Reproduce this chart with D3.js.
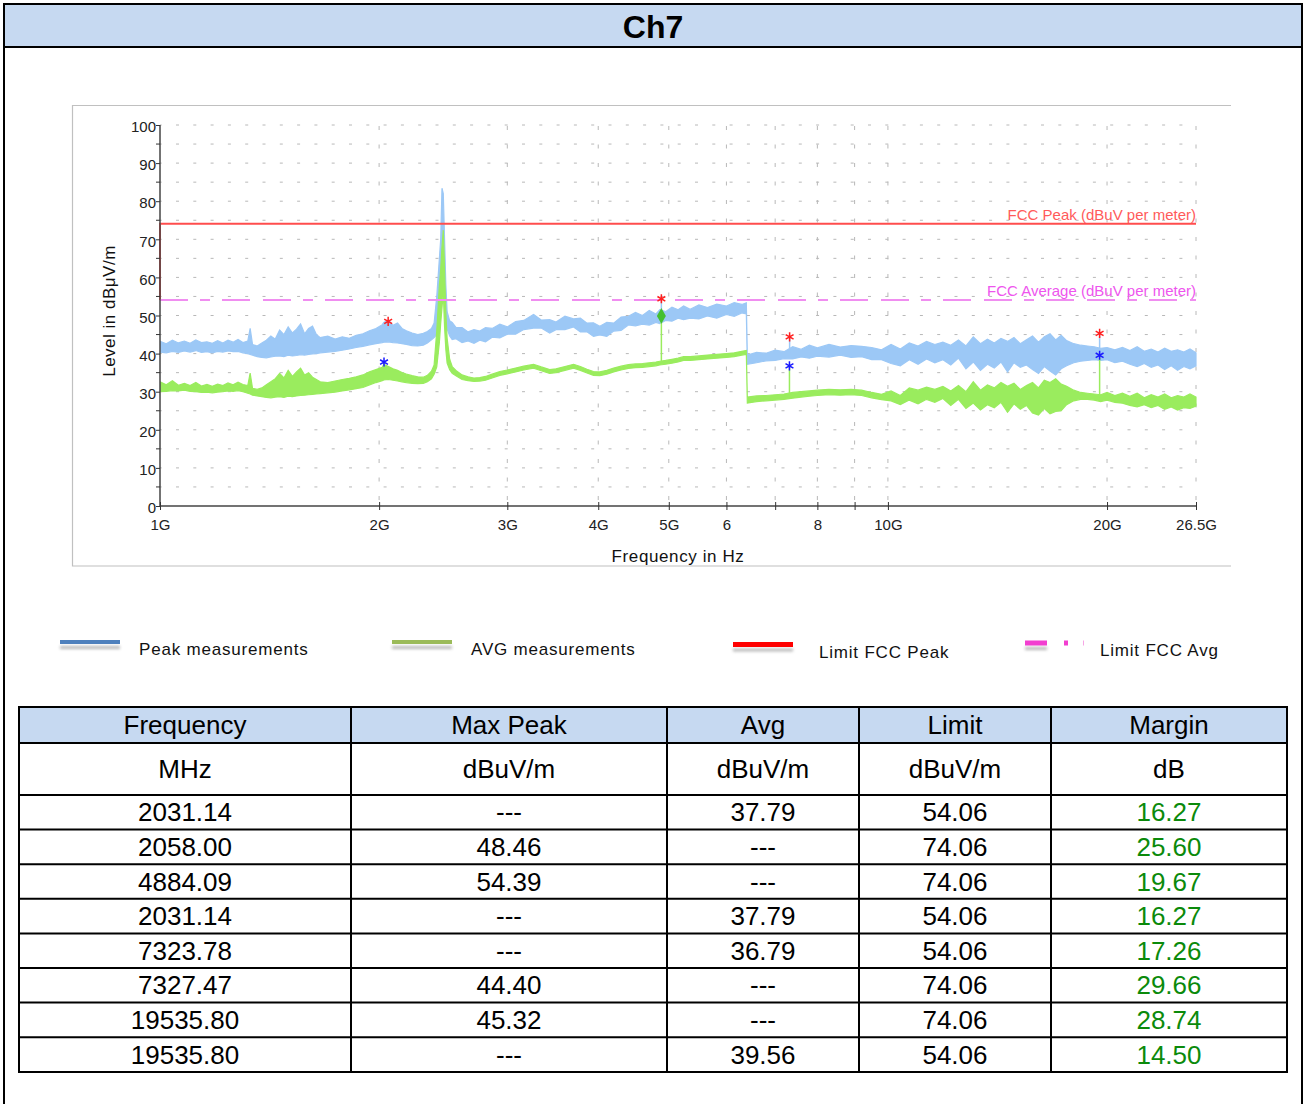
<!DOCTYPE html>
<html>
<head>
<meta charset="utf-8">
<script src="https://cdn.jsdelivr.net/npm/d3@7"></script>
<style>
  body { margin: 0; background: #fff; }
  svg { display: block; }
  text { font-family: "Liberation Sans", Arial, sans-serif; }
</style>
</head>
<body>
<svg id="chart" width="1304" height="1104"></svg>
<script>
// ---- Scan data (frequency in GHz, levels in dBµV/m) ----
const freqGHz = [
  1.00,1.02,1.04,1.06,1.08,1.10,1.12,1.14,1.16,1.18,1.20,1.22,1.24,1.26,1.28,1.30,1.32,1.33,1.34,1.36,
  1.38,1.40,1.42,1.44,1.46,1.48,1.50,1.52,1.54,1.56,1.58,1.60,1.62,1.64,1.66,1.70,1.74,1.78,1.82,1.86,
  1.90,1.94,1.98,2.02,2.03,2.06,2.09,2.12,2.15,2.18,2.22,2.26,2.30,2.33,2.36,2.38,2.40,2.42,2.43,2.44,
  2.45,2.46,2.47,2.48,2.50,2.52,2.55,2.60,2.65,2.70,2.75,2.80,2.86,2.93,3.00,3.08,3.16,3.26,3.34,3.43,
  3.50,3.60,3.70,3.78,3.86,3.94,4.02,4.11,4.20,4.30,4.40,4.50,4.60,4.70,4.80,4.86,4.95,5.05,5.15,5.24,
  5.35,5.50,5.65,5.82,6.00,6.15,6.30,6.39,6.41,6.60,6.80,7.00,7.20,7.40,7.60,7.80,8.00,8.30,8.60,8.90,
  9.20,9.50,9.80,10.1,10.4,10.7,11.0,11.3,11.6,11.9,12.2,12.5,12.8,13.1,13.4,13.7,14.0,14.3,14.6,14.9,
  15.2,15.5,15.8,16.1,16.4,16.7,17.0,17.3,17.6,18.0,18.4,18.8,19.2,19.6,20.0,20.5,21.0,21.5,22.0,22.5,
  23.0,23.5,24.0,24.5,25.0,25.5,26.0,26.5
];
const peakHigh = [
  43.2,42.6,43.5,42.8,43.3,42.7,43.6,42.9,43.1,42.7,43.4,42.8,43.5,43.0,43.7,42.9,43.3,46.6,42.4,42.0,
  42.8,43.5,44.6,43.8,46.2,45.0,47.0,45.4,46.4,47.8,45.2,46.6,47.2,45.0,44.2,44.6,43.8,44.4,44.0,44.8,
  45.2,46.0,46.6,47.6,48.2,48.8,47.4,48.0,46.6,46.0,45.4,45.0,45.3,45.8,46.6,48.0,55.0,65.0,70.0,83.4,
  82.0,70.0,58.0,51.0,48.6,48.2,46.9,46.8,45.7,46.3,45.9,46.8,46.6,47.7,47.0,48.4,48.7,50.3,48.8,48.9,
  48.3,49.8,49.1,49.3,48.0,48.1,47.2,48.2,48.0,49.6,49.8,50.8,50.0,51.3,50.4,51.5,51.0,52.2,51.5,52.5,
  51.6,52.8,52.1,53.0,52.5,53.4,52.9,53.3,39.6,40.3,40.1,40.9,40.5,41.8,41.1,42.2,41.5,42.4,41.7,42.1,
  41.9,41.6,41.0,42.4,41.2,42.8,42.0,43.2,42.4,43.0,42.2,43.6,42.0,44.4,42.6,43.8,42.8,44.0,43.2,44.2,
  42.6,43.6,44.6,43.0,44.4,45.2,43.6,44.8,43.4,42.6,42.2,42.0,41.8,41.4,41.6,41.0,41.6,40.8,41.8,40.6,
  41.2,40.4,41.4,40.6,41.0,40.4,41.2,40.2
];
const peakLow = [
  40.4,40.2,40.6,40.3,40.7,40.4,40.8,40.3,40.5,40.2,40.6,40.4,40.7,40.5,40.6,40.2,40.0,39.8,39.6,39.2,
  39.0,38.9,39.1,39.3,39.4,39.2,39.6,39.4,39.5,39.7,39.6,39.8,39.9,40.0,40.2,40.4,40.6,40.9,41.2,41.6,
  41.9,42.3,42.6,42.9,43.0,43.1,42.9,42.8,42.6,42.4,42.1,42.0,42.2,42.8,43.6,44.2,45.0,48.0,54.0,60.0,
  62.0,55.0,49.0,46.5,44.6,43.7,43.9,42.9,43.3,42.7,43.5,43.1,44.3,44.1,45.1,45.1,46.3,46.7,46.7,45.4,
  46.3,46.3,47.0,45.7,45.7,44.5,44.9,44.5,45.9,46.1,47.5,47.3,47.7,47.5,48.2,47.9,48.7,48.5,49.3,48.9,
  49.3,49.1,49.9,49.3,50.3,49.8,50.7,50.4,37.2,37.6,38.1,38.2,38.7,38.6,39.1,38.8,39.3,39.1,39.6,39.0,
  39.2,38.4,38.4,37.4,36.8,38.4,37.2,38.6,37.6,38.4,37.0,38.8,36.0,37.8,35.6,37.2,36.2,37.8,35.2,37.6,
  36.4,37.0,35.8,34.8,36.6,35.4,34.4,36.0,36.8,37.6,38.0,38.2,38.4,38.2,38.4,37.6,38.0,37.2,36.6,37.4,
  36.4,37.0,35.8,36.8,35.6,36.6,36.0,36.8
];
const avgHigh = [
  32.6,31.8,32.9,31.7,32.2,31.6,32.4,31.5,31.9,31.4,32.0,31.6,32.3,31.8,32.5,31.9,31.6,34.9,30.9,30.6,
  31.0,31.8,32.6,33.4,34.8,33.6,35.6,34.0,35.2,36.2,34.4,35.0,33.8,33.2,32.6,32.4,32.8,33.2,33.5,33.9,
  34.4,35.2,35.8,36.4,37.2,36.6,36.0,35.6,35.0,34.6,34.2,33.9,33.8,34.3,35.4,37.0,46.0,58.0,62.0,68.0,
  72.4,62.0,50.6,44.0,38.5,36.6,35.6,34.4,33.9,33.6,33.7,34.0,34.6,35.3,35.7,36.2,36.7,37.2,36.5,35.8,
  36.0,36.6,37.2,36.6,35.9,35.3,35.2,35.6,36.2,36.7,37.1,37.3,37.4,37.6,37.8,38.0,38.2,38.5,38.8,39.2,
  39.2,39.4,39.6,39.8,40.0,40.2,40.6,40.8,28.6,28.9,29.0,29.2,29.4,29.8,30.0,30.2,30.4,30.6,30.5,30.6,
  30.4,29.8,29.3,30.2,29.0,31.0,30.4,31.2,30.6,31.4,30.2,31.6,30.0,32.6,30.4,31.8,31.0,32.4,31.4,32.2,
  30.6,31.6,32.4,31.0,33.0,32.4,33.4,32.0,31.4,30.4,29.8,29.6,29.4,29.2,29.8,29.0,29.6,28.8,29.6,28.4,
  29.2,28.6,29.4,28.4,29.0,28.6,29.4,28.6
];
const avgLow = [
  30.0,30.1,30.3,30.2,30.4,30.1,30.0,29.8,29.9,29.7,29.9,30.0,30.2,30.1,30.3,30.0,29.6,29.4,29.1,28.9,
  28.7,28.5,28.4,28.6,28.7,28.5,28.8,28.7,28.9,29.0,29.1,29.2,29.3,29.4,29.5,29.7,29.9,30.2,30.5,30.8,
  31.1,31.8,32.4,32.9,33.1,33.2,33.0,32.8,32.6,32.4,32.2,32.1,32.2,32.6,33.4,34.6,36.5,43.0,48.0,52.0,
  56.0,47.0,41.0,37.5,35.8,34.8,34.2,33.2,32.9,32.7,32.8,33.0,33.6,34.3,34.7,35.2,35.7,36.2,35.5,34.8,
  35.0,35.6,36.2,35.6,34.9,34.3,34.2,34.6,35.2,35.7,36.1,36.3,36.4,36.6,36.8,37.0,37.2,37.5,37.8,38.2,
  38.2,38.4,38.6,38.8,39.0,39.2,39.6,39.8,27.0,27.4,27.6,27.8,28.0,28.3,28.6,28.8,29.0,29.2,29.1,29.2,
  29.0,28.4,27.9,27.6,26.6,27.8,26.8,28.0,27.2,28.2,26.4,28.0,25.6,27.0,25.2,26.6,25.8,27.2,24.6,26.8,
  25.4,26.4,24.4,23.9,25.6,24.2,24.8,25.0,26.6,27.6,28.0,28.0,27.8,27.4,27.8,27.2,27.0,26.4,26.0,26.6,
  25.8,26.4,25.4,26.0,25.2,25.8,25.6,26.2
];

// ---- Limits and final measurements ----
const limitPeak = 74.06;
const limitAvg = 54.06;
const peakMarkFreqMHz = [2058.00, 4884.09, 7327.47, 19535.80];
const peakMarkLevel = [48.46, 54.39, 44.40, 45.32];
const avgMarkFreqMHz = [2031.14, 7323.78, 19535.80];
const avgMarkLevel = [37.79, 36.79, 39.56];
const avgDiamondFreqMHz = [4884.09];
const avgDiamondLevel = [49.9];

// ---- Axes ----
const yTickValues = [0, 10, 20, 30, 40, 50, 60, 70, 80, 90, 100];
const xTickFreqGHz = [1, 2, 3, 4, 5, 6, 7, 8, 9, 10, 20, 26.5];
const xTickLabels = ["1G", "2G", "3G", "4G", "5G", "6", "", "8", "", "10G", "20G", "26.5G"];
const xGridFreqGHz = [2, 3, 4, 5, 6, 7, 8, 9, 10, 20, 26.5];

// ---- Result table ----
const tableHeader = ["Frequency", "Max Peak", "Avg", "Limit", "Margin"];
const tableUnits = ["MHz", "dBuV/m", "dBuV/m", "dBuV/m", "dB"];
const tableFreq = ["2031.14", "2058.00", "4884.09", "2031.14", "7323.78", "7327.47", "19535.80", "19535.80"];
const tableMaxPeak = ["---", "48.46", "54.39", "---", "---", "44.40", "45.32", "---"];
const tableAvg = ["37.79", "---", "---", "37.79", "36.79", "---", "---", "39.56"];
const tableLimit = ["54.06", "74.06", "74.06", "54.06", "54.06", "74.06", "74.06", "54.06"];
const tableMargin = ["16.27", "25.60", "19.67", "16.27", "17.26", "29.66", "28.74", "14.50"];

const svg = d3.select("#chart");
const W = 1304;

// ---- Page frame and title band ----
svg.append("rect").attr("x", 0).attr("y", 0).attr("width", W).attr("height", 1104).attr("fill", "#fff");
svg.append("line").attr("x1", 4).attr("x2", 4).attr("y1", 46).attr("y2", 1110).attr("stroke", "#000").attr("stroke-width", 2);
svg.append("line").attr("x1", 1302).attr("x2", 1302).attr("y1", 46).attr("y2", 1110).attr("stroke", "#000").attr("stroke-width", 2);
svg.append("rect").attr("x", 4).attr("y", 4).attr("width", 1298).attr("height", 43)
  .attr("fill", "#c6d9f1").attr("stroke", "#000").attr("stroke-width", 2);
svg.append("text").attr("x", 653).attr("y", 38).attr("text-anchor", "middle")
  .attr("font-size", 32).attr("font-weight", "bold").attr("fill", "#000").text("Ch7");

// ---- Chart frame ----
const frame = svg.append("g").attr("stroke", "#c0c0c0").attr("stroke-width", 1.2).attr("fill", "none");
frame.append("path").attr("d", "M1231,105.5H72.5V566H1231");

// ---- Scales ----
const x = d3.scaleLog().domain([1, 26.5]).range([160, 1196]);
const y = d3.scaleLinear().domain([0, 100]).range([506, 125]);

const defs = svg.append("defs");
defs.append("clipPath").attr("id", "plotClip").append("rect")
  .attr("x", 160).attr("y", 120).attr("width", 1037).attr("height", 387);
const blur = defs.append("filter").attr("id", "soft").attr("x", "-20%").attr("y", "-100%").attr("width", "140%").attr("height", "300%");
blur.append("feGaussianBlur").attr("stdDeviation", 1.6);

// ---- Grid ----
const grid = svg.append("g").attr("stroke", "#b8b8b8").attr("stroke-width", 1);
grid.selectAll("line.h").data(d3.range(5, 101, 5)).join("line").attr("class", "h")
  .attr("x1", x(1)).attr("x2", x(26.5)).attr("y1", d => y(d)).attr("y2", d => y(d))
  .attr("stroke-dasharray", "3,14.3").attr("stroke-dashoffset", -16);
grid.selectAll("line.v").data(xGridFreqGHz).join("line").attr("class", "v")
  .attr("x1", d => x(d)).attr("x2", d => x(d)).attr("y1", y(0)).attr("y2", y(100))
  .attr("stroke-dasharray", "4,14.5").attr("stroke-dashoffset", -6);

// ---- Traces ----
const pts = freqGHz.map((f, i) => ({ f, ph: peakHigh[i], pl: peakLow[i], ah: avgHigh[i], al: avgLow[i] }));
const plot = svg.append("g").attr("clip-path", "url(#plotClip)");

const peakArea = d3.area().x(d => x(d.f)).y0(d => y(d.pl)).y1(d => y(d.ph)).curve(d3.curveLinear);
const avgArea = d3.area().x(d => x(d.f)).y0(d => y(d.al)).y1(d => y(d.ah)).curve(d3.curveLinear);
const peakColor = "#9cc8f6";
const avgColor = "#9aec5e";

plot.append("path").datum(pts).attr("d", peakArea).attr("fill", peakColor)
  .attr("stroke", peakColor).attr("stroke-width", 1.2).attr("stroke-linejoin", "miter");

// stems from the peak trace up to the final peak readings
const bis = d3.bisector(d => d.f).center;
const bandMid = (fG, hiKey, loKey) => { const p = pts[bis(pts, fG)]; return (p[hiKey] + p[loKey]) / 2; };
plot.selectAll("line.pstem").data(peakMarkFreqMHz).join("line").attr("class", "pstem")
  .attr("x1", d => x(d / 1000)).attr("x2", d => x(d / 1000))
  .attr("y1", (d, i) => y(peakMarkLevel[i])).attr("y2", d => y(bandMid(d / 1000, "ph", "pl")))
  .attr("stroke", peakColor).attr("stroke-width", 1.5);

plot.append("path").datum(pts).attr("d", avgArea).attr("fill", avgColor)
  .attr("stroke", avgColor).attr("stroke-width", 1.2);

plot.selectAll("line.astem").data(avgMarkFreqMHz).join("line").attr("class", "astem")
  .attr("x1", d => x(d / 1000)).attr("x2", d => x(d / 1000))
  .attr("y1", (d, i) => y(avgMarkLevel[i])).attr("y2", d => y(bandMid(d / 1000, "ah", "al")))
  .attr("stroke", avgColor).attr("stroke-width", 1.5);
plot.selectAll("line.dstem").data(avgDiamondFreqMHz).join("line").attr("class", "dstem")
  .attr("x1", d => x(d / 1000)).attr("x2", d => x(d / 1000))
  .attr("y1", (d, i) => y(avgDiamondLevel[i])).attr("y2", d => y(bandMid(d / 1000, "ah", "al")))
  .attr("stroke", avgColor).attr("stroke-width", 1.5);

// ---- Limit lines ----
const limPeakPts = [[1, limitAvg], [1, limitPeak], [26.5, limitPeak]];
svg.append("path").datum(limPeakPts)
  .attr("d", d3.line().x(d => x(d[0])).y(d => y(d[1])))
  .attr("fill", "none").attr("stroke", "#ff4d4d").attr("stroke-width", 2);
svg.append("path").datum([[1, limitAvg], [26.5, limitAvg]])
  .attr("d", d3.line().x(d => x(d[0])).y(d => y(d[1])))
  .attr("fill", "none").attr("stroke", "#f08ef0").attr("stroke-width", 2)
  .attr("stroke-dasharray", "28,12,10,12,28,13");

svg.append("text").attr("x", x(26.5)).attr("y", y(limitPeak) - 4).attr("text-anchor", "end")
  .attr("font-size", 15).attr("fill", "#ff5a5a").text("FCC Peak (dBuV per meter)");
svg.append("text").attr("x", x(26.5)).attr("y", y(limitAvg) - 4).attr("text-anchor", "end")
  .attr("font-size", 15).attr("fill", "#ee55ee").text("FCC Average (dBuV per meter)");

// ---- Markers ----
const ast = d3.symbol().type(d3.symbolAsterisk).size(58);
svg.selectAll("path.pm").data(peakMarkFreqMHz).join("path").attr("class", "pm")
  .attr("d", ast).attr("transform", (d, i) => `translate(${x(d / 1000)},${y(peakMarkLevel[i])})`)
  .attr("fill", "none").attr("stroke", "#ff2020").attr("stroke-width", 1.5);
svg.selectAll("path.am").data(avgMarkFreqMHz).join("path").attr("class", "am")
  .attr("d", ast).attr("transform", (d, i) => `translate(${x(d / 1000)},${y(avgMarkLevel[i])})`)
  .attr("fill", "none").attr("stroke", "#1a1aff").attr("stroke-width", 1.5);
svg.selectAll("path.dm").data(avgDiamondFreqMHz).join("path").attr("class", "dm")
  .attr("d", d3.symbol().type(d3.symbolDiamond).size(70))
  .attr("transform", (d, i) => `translate(${x(d / 1000)},${y(avgDiamondLevel[i])})`)
  .attr("fill", "#44c030");

// ---- Axes ----
const yAxis = svg.append("g").attr("transform", `translate(${x(1)},0)`)
  .call(d3.axisLeft(y).tickValues(yTickValues).tickSize(4).tickPadding(0).tickFormat(d3.format("d")));
yAxis.selectAll(".minor").data(d3.range(5, 100, 10)).join("line").attr("class", "minor")
  .attr("x1", -4).attr("x2", 0).attr("y1", d => y(d)).attr("y2", d => y(d)).attr("stroke", "#333");

const xAxis = svg.append("g").attr("transform", `translate(0,${y(0)})`)
  .call(d3.axisBottom(x).tickValues(xTickFreqGHz).tickSize(4).tickPadding(9)
    .tickFormat((d, i) => xTickLabels[i]));
xAxis.selectAll(".tick").append("line").attr("y1", -4).attr("y2", 0).attr("stroke", "#333");

[yAxis, xAxis].forEach(a => {
  a.select(".domain").attr("stroke", "#444").attr("stroke-width", 1.5);
  a.selectAll(".tick line").attr("stroke", "#333");
  a.selectAll(".tick text").attr("font-size", 15).attr("fill", "#222")
    .attr("font-family", "'Liberation Sans', Arial, sans-serif");
});
yAxis.selectAll(".tick text").attr("dy", "0.45em");
yAxis.select(".domain").attr("d", `M0,${y(100)}V${y(0)}`);
xAxis.select(".domain").attr("d", `M${x(1)},0H${x(26.5)}`);

svg.append("text").attr("transform", `translate(115,311) rotate(-90)`).attr("text-anchor", "middle")
  .attr("font-size", 17).attr("letter-spacing", 0.5).attr("fill", "#111").text("Level in dBμV/m");
svg.append("text").attr("x", 678).attr("y", 562).attr("text-anchor", "middle")
  .attr("font-size", 17).attr("letter-spacing", 0.6).attr("fill", "#111").text("Frequency in Hz");

// ---- Legend ----
const legend = [
  { label: "Peak measurements", color: "#4f81bd", x0: 60, x1: 120, ly: 642, h: 4, tx: 139, ty: 655 },
  { label: "AVG measurements", color: "#9bbb59", x0: 392, x1: 452, ly: 642, h: 4, tx: 471, ty: 655 },
  { label: "Limit FCC Peak", color: "#ff0000", x0: 733, x1: 793, ly: 644.5, h: 5, tx: 819, ty: 658 },
  { label: "Limit FCC Avg", color: "#f23fd0", x0: 1025, x1: 1047, ly: 643, h: 5, tx: 1100, ty: 656 }
];
const lg = svg.append("g");
legend.forEach(d => {
  lg.append("rect").attr("x", d.x0).attr("y", d.ly + 4).attr("width", d.x1 - d.x0).attr("height", 3)
    .attr("fill", "#9a9a9a").attr("opacity", 0.7).attr("filter", "url(#soft)");
  lg.append("rect").attr("x", d.x0).attr("y", d.ly - d.h / 2).attr("width", d.x1 - d.x0).attr("height", d.h)
    .attr("fill", d.color);
  lg.append("text").attr("x", d.tx).attr("y", d.ty).attr("font-size", 17).attr("letter-spacing", 0.8)
    .attr("fill", "#111").text(d.label);
});
lg.append("rect").attr("x", 1064).attr("y", 640.5).attr("width", 4).attr("height", 5).attr("fill", "#f23fd0");
lg.append("rect").attr("x", 1083).attr("y", 640.5).attr("width", 1).attr("height", 5).attr("fill", "#f7a6e6");

// ---- Table ----
const colEdges = [19, 351, 667, 859, 1051, 1287];
const colMid = colEdges.slice(0, -1).map((e, i) => (e + colEdges[i + 1]) / 2);
const rowEdges = [707, 743, 795, 829.6, 864.2, 898.8, 933.4, 968, 1002.6, 1037.2, 1072];
const tbl = svg.append("g");
tbl.append("rect").attr("x", colEdges[0]).attr("y", rowEdges[0]).attr("width", colEdges[5] - colEdges[0])
  .attr("height", rowEdges[1] - rowEdges[0]).attr("fill", "#c6d9f1");
const rowsData = tableFreq.map((f, i) => [f, tableMaxPeak[i], tableAvg[i], tableLimit[i], tableMargin[i]]);
const allRows = [tableHeader, tableUnits, ...rowsData];
allRows.forEach((row, r) => {
  const cy = (rowEdges[r] + rowEdges[r + 1]) / 2;
  row.forEach((v, c) => {
    tbl.append("text").attr("x", colMid[c]).attr("y", cy + 9).attr("text-anchor", "middle")
      .attr("font-size", 26).attr("fill", (r >= 2 && c === 4) ? "#0b8a0b" : "#000").text(v);
  });
});
tbl.selectAll("line.rl").data(rowEdges).join("line").attr("class", "rl")
  .attr("x1", colEdges[0] - 1).attr("x2", colEdges[5] + 1).attr("y1", d => d).attr("y2", d => d)
  .attr("stroke", "#000").attr("stroke-width", 2);
tbl.selectAll("line.cl").data(colEdges).join("line").attr("class", "cl")
  .attr("x1", d => d).attr("x2", d => d).attr("y1", rowEdges[0]).attr("y2", rowEdges[rowEdges.length - 1])
  .attr("stroke", "#000").attr("stroke-width", 2);
</script>
</body>
</html>
